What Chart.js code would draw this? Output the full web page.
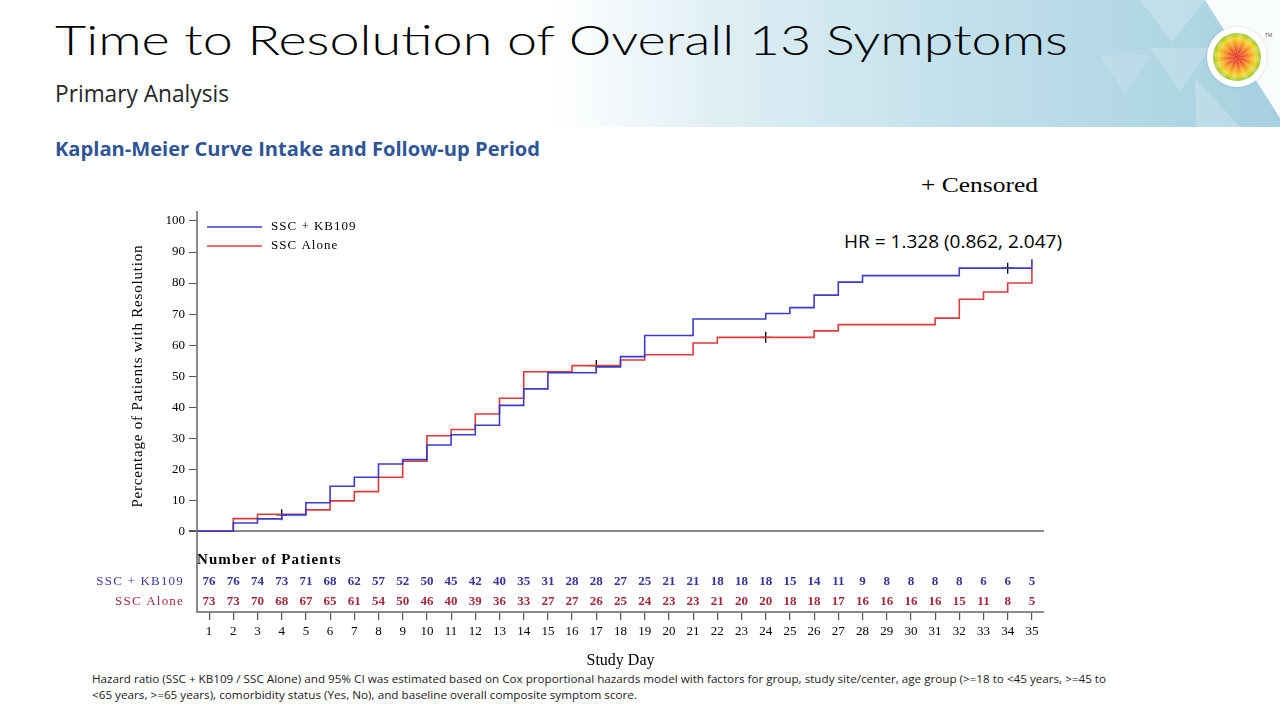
<!DOCTYPE html>
<html><head><meta charset="utf-8">
<script src="https://cdn.jsdelivr.net/npm/chart.js@4.4.0/dist/chart.umd.min.js"></script>
<style>
html,body{margin:0;padding:0;background:#fff;overflow:hidden;}
#wrap{position:relative;width:1280px;height:720px;overflow:hidden;background:#fff;}
#hdr{position:absolute;left:0;top:0;}
.t{position:absolute;white-space:nowrap;transform-origin:0 0;line-height:1;}
#c{position:absolute;left:0;top:0;z-index:2;}
#logo{position:absolute;left:1207px;top:27px;width:60px;height:60px;border-radius:50%;background:#fff;box-shadow:0 0 3px rgba(0,0,0,.15);}
#logo .in{position:absolute;left:6px;top:6px;width:48px;height:48px;border-radius:50%;
background:radial-gradient(circle,#e0302c 0%,#ee5a2a 20%,#f59a22 38%,#f2d52a 55%,#9ccc3a 70%,#3fa64a 82%,#2b6cb3 95%);}
#logo .in2{position:absolute;left:6px;top:6px;width:48px;height:48px;border-radius:50%;
background:repeating-conic-gradient(rgba(255,255,255,.18) 0deg 15deg, rgba(0,0,0,0) 15deg 30deg);}
#logo .tm{position:absolute;left:58px;top:5px;font:5px "Open Sans";color:#555;}
</style></head>
<body><div id="wrap">
<svg id="hdr" width="1280" height="128">
<defs><linearGradient id="g" x1="0" x2="1280" y1="0" y2="0" gradientUnits="userSpaceOnUse">
<stop offset="0.43" stop-color="#ffffff"/><stop offset="0.56" stop-color="#e0eff5"/>
<stop offset="0.75" stop-color="#c2e0eb"/><stop offset="1" stop-color="#a6d1e1"/></linearGradient></defs>
<rect x="540" y="0" width="740" height="127" fill="url(#g)"/>
<polygon points="1140,0 1205,0 1172,42" fill="#ffffff" fill-opacity="0.22"/>
<polygon points="1150,48 1210,48 1180,92" fill="#ffffff" fill-opacity="0.18"/>
<polygon points="1195,78 1240,127 1196,127" fill="#ffffff" fill-opacity="0.2"/>
<polygon points="1100,55 1150,55 1125,95" fill="#ffffff" fill-opacity="0.12"/>
<polygon points="1205,0 1280,0 1280,118" fill="#ffffff" fill-opacity="0.92"/>
</svg>
<div id="logo"><div class="in"></div><div class="in2"></div><div class="tm">TM</div></div>

<div class="t" id="title" style="left:55px;top:15px;font:300 41px 'Lato';color:#000;">Time to Resolution of Overall 13 Symptoms</div>
<div class="t" id="sub" style="left:55px;top:77px;font:400 23px 'Open Sans';color:#262626;">Primary Analysis</div>
<div class="t" id="km" style="left:55px;top:135px;font:700 20px 'Open Sans';color:#2f5597;">Kaplan-Meier Curve Intake and Follow-up Period</div>
<div class="t" id="cens" style="left:921px;top:172px;font:400 22px 'Liberation Serif';color:#000;">+ Censored</div>
<div class="t" id="hr" style="left:844px;top:229px;font:400 18px 'Open Sans';color:#000;">HR = 1.328 (0.862, 2.047)</div>
<div class="t" id="fn1" style="left:92px;top:671px;font:400 11.5px 'Open Sans';color:#1a1a1a;">Hazard ratio (SSC + KB109 / SSC Alone) and 95% CI was estimated based on Cox proportional hazards model with factors for group, study site/center, age group (&gt;=18 to &lt;45 years, &gt;=45 to</div>
<div class="t" id="fn2" style="left:92px;top:687px;font:400 11.5px 'Open Sans';color:#1a1a1a;">&lt;65 years, &gt;=65 years), comorbidity status (Yes, No), and baseline overall composite symptom score.</div>

<canvas id="c" width="1280" height="720"></canvas>
</div>
<script>
// ---------------- data ----------------
const days = [1,2,3,4,5,6,7,8,9,10,11,12,13,14,15,16,17,18,19,20,21,22,23,24,25,26,27,28,29,30,31,32,33,34,35];
const kbPct    = [0,2.7,4.0,5.3,9.2,14.5,17.4,21.7,23.1,27.8,31.1,34.2,40.6,45.9,51.1,51.1,53.0,56.3,63.1,63.1,68.4,68.4,68.4,70.2,72.1,76.1,80.3,82.4,82.4,82.4,82.4,84.8,84.8,84.8,87.7];
const alonePct = [0,4.1,5.5,5.5,6.9,9.8,12.8,17.4,22.6,30.8,32.8,37.8,42.9,51.4,51.4,53.4,53.4,55.2,56.9,56.9,60.7,62.5,62.5,62.5,62.5,64.6,66.6,66.6,66.6,66.6,68.7,74.8,77.1,80.0,84.5];
const kbCensorDays = [4,34];
const aloneCensorDays = [17,24];
const kbRisk    = [76,76,74,73,71,68,62,57,52,50,45,42,40,35,31,28,28,27,25,21,21,18,18,18,15,14,11,9,8,8,8,8,6,6,5];
const aloneRisk = [73,73,70,68,67,65,61,54,50,46,40,39,36,33,27,27,26,25,24,23,23,21,20,20,18,18,17,16,16,16,16,15,11,8,5];
const yTicks = [0,10,20,30,40,50,60,70,80,90,100];
const seriesNames = ['SSC + KB109','SSC Alone'];
const yTitle = 'Percentage of Patients with Resolution';
const X_MIN = 0.5, X_MAX = 35.5, Y_MIN = -26, Y_MAX = 102.9;

// ---------------- text fitting ----------------
function fit(id, w){ const el=document.getElementById(id); const r=el.getBoundingClientRect().width; el.style.transform='scaleX('+(w/r)+')'; }
fit('title',1013); fit('sub',174); fit('km',485); fit('hr',218); fit('fn1',1014); fit('fn2',545); fit('cens',117);

const BLUE='#3c3cc8', RED='#dc3b3b';
const serif='"Liberation Serif", "Times New Roman", serif';

const mkPts = (vals)=>[{x:X_MIN,y:0}].concat(days.map((d,i)=>({x:d,y:vals[i]})));
const censorPts = kbCensorDays.map(d=>({x:d,y:kbPct[days.indexOf(d)]}))
  .concat(aloneCensorDays.map(d=>({x:d,y:alonePct[days.indexOf(d)]})));

const riskPlugin = {
  id:'risk',
  afterDraw(chart){
    const {ctx, scales:{x,y}, chartArea} = chart;
    const LS = v=>{ if('letterSpacing' in ctx) ctx.letterSpacing=v; };
    ctx.save();
    // y-axis title, centred on the 0-100 range
    ctx.save();
    ctx.translate(138, y.getPixelForValue(50));
    ctx.rotate(-Math.PI/2);
    ctx.font='15px '+serif; ctx.fillStyle='#000'; ctx.textAlign='center'; ctx.textBaseline='middle';
    LS('0.8px');
    ctx.fillText(yTitle, 0, 0);
    ctx.restore();
    // legend inside plot
    const lg=[[BLUE,seriesNames[0],227],[RED,seriesNames[1],246]];
    ctx.font='13px '+serif; ctx.textBaseline='middle'; ctx.textAlign='left';
    LS('1px');
    lg.forEach(([c,t,yy])=>{ ctx.strokeStyle=c; ctx.lineWidth=1.4; ctx.beginPath(); ctx.moveTo(207,yy); ctx.lineTo(262,yy); ctx.stroke(); ctx.fillStyle='#000'; ctx.fillText(t,271,yy); });
    // number of patients
    ctx.textBaseline='alphabetic';
    ctx.font='bold 15px '+serif; ctx.fillStyle='#000';
    LS('1.1px');
    ctx.fillText('Number of Patients', chartArea.left, 564);
    ctx.font='13px '+serif; ctx.textAlign='right';
    LS('1.2px');
    ctx.fillStyle='#3a3a9c'; ctx.fillText(seriesNames[0], 184, 585);
    ctx.fillStyle='#a02a3c'; ctx.fillText(seriesNames[1], 184, 605);
    LS('0px');
    ctx.font='bold 13px '+serif; ctx.textAlign='center';
    days.forEach((d,i)=>{
      const px=x.getPixelForValue(d);
      ctx.fillStyle='#35359a'; ctx.fillText(String(kbRisk[i]), px, 585);
      ctx.fillStyle='#a02a3c'; ctx.fillText(String(aloneRisk[i]), px, 605);
    });
    ctx.restore();
  }
};

new Chart(document.getElementById('c'), {
  type:'line',
  data:{ datasets:[
    {label:seriesNames[0], data:mkPts(kbPct), borderColor:BLUE, borderWidth:1.6, stepped:true, pointRadius:0, fill:false},
    {label:seriesNames[1], data:mkPts(alonePct), borderColor:RED, borderWidth:1.6, stepped:true, pointRadius:0, fill:false},
    {label:'Censored', data:censorPts, showLine:false, pointStyle:'cross', pointRadius:5.5, borderColor:'#000', pointBorderWidth:1.3, borderWidth:1.3}
  ]},
  options:{
    responsive:false, animation:false, devicePixelRatio:1,
    layout:{padding:{left:128, top:212, right:236, bottom:50}},
    plugins:{legend:{display:false}, tooltip:{enabled:false}},
    scales:{
      x:{ type:'linear', min:X_MIN, max:X_MAX,
        afterBuildTicks:s=>{ s.ticks = days.map(v=>({value:v})); },
        afterFit:s=>{ s.height = 58; },
        grid:{drawOnChartArea:false, color:'#555', tickLength:8, lineWidth:1.2},
        border:{display:true, color:'#8a8a8a', width:2},
        ticks:{font:{family:serif, size:13}, color:'#000', padding:4, maxRotation:0, autoSkip:false},
        title:{display:true, text:'Study Day', font:{family:serif, size:16}, color:'#000', padding:{top:0,bottom:0}}
      },
      y:{ type:'linear', min:Y_MIN, max:Y_MAX,
        afterBuildTicks:s=>{ s.ticks = yTicks.map(v=>({value:v})); },
        afterFit:s=>{ s.width = 69; },
        grid:{drawOnChartArea:true, color:c=>(c.tick && c.tick.value===0)?'#8a8a8a':'rgba(0,0,0,0)', lineWidth:c=>(c.tick && c.tick.value===0)?2:1, tickColor:'#555', tickLength:8},
        border:{display:true, color:'#8a8a8a', width:2},
        ticks:{font:{family:serif, size:13}, color:'#000', padding:4},
        title:{display:false}
      }
    }
  },
  plugins:[riskPlugin]
});
</script>
</body></html>
